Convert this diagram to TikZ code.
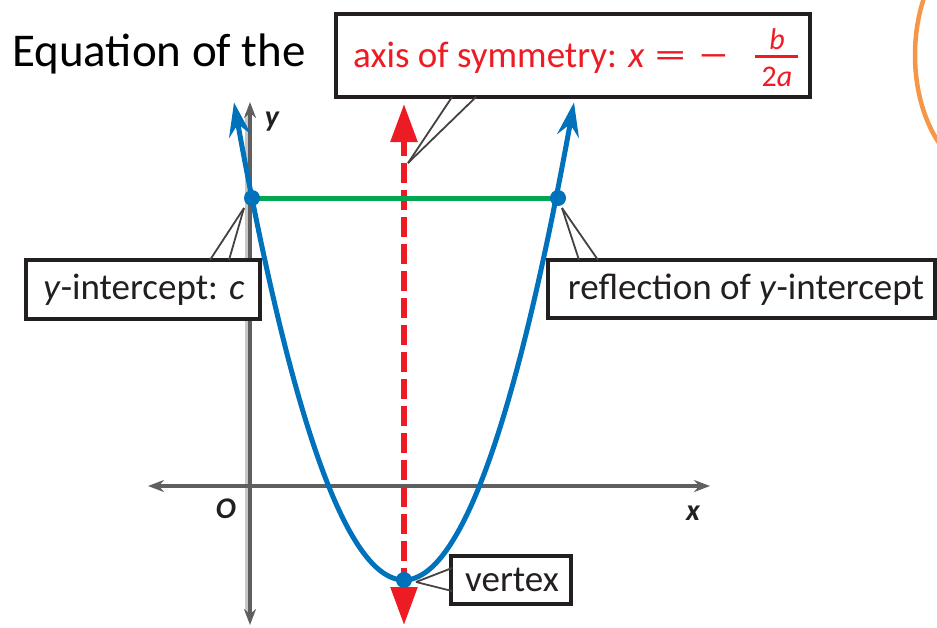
\documentclass[tikz,border=0pt]{standalone}
\usepackage{fontspec}
\usepackage{graphicx}
\setmainfont{Carlito}
\usetikzlibrary{arrows.meta}
\definecolor{pblue}{RGB}{0,114,188}
\definecolor{pred}{RGB}{237,28,36}
\definecolor{pgreen}{RGB}{0,166,81}
\definecolor{porange}{RGB}{247,150,70}
\definecolor{axgray}{RGB}{95,95,95}
\definecolor{txt}{RGB}{35,31,32}
\begin{document}
\begin{tikzpicture}[x=1pt,y=-1pt,
  box/.style={draw=txt, line width=3.5pt, fill=white, inner sep=0pt},
  pointer/.style={draw=txt!85, line width=1.8pt},
  lbl/.style={font=\fontsize{37}{37}\selectfont, text=txt, inner sep=0pt},
  axlbl/.style={font=\fontsize{30}{30}\selectfont\bfseries\itshape, text=txt, inner sep=0pt},
  axisline/.style={axgray, line width=3.5pt, {Stealth[length=16pt,width=12pt]}-{Stealth[length=16pt,width=12pt]}},
  curve/.style={pblue, line width=5pt, {Stealth[length=34pt,width=22pt,inset=12pt]}-{Stealth[length=34pt,width=22pt,inset=12pt]}},
  symaxis/.style={pred, line width=5.5pt, dash pattern=on 20pt off 7pt, {Triangle[length=38pt,width=26pt]}-{Triangle[length=38pt,width=26pt]}},
  dot/.style={circle, fill=pblue, minimum size=16pt, inner sep=0pt}
]
\useasboundingbox (0,0) rectangle (937,627);
% orange arc
\begin{scope}
  \clip (0,0) rectangle (937,627);
  \draw[porange, line width=4.5pt] (990,55) ellipse [x radius=75, y radius=120];
\end{scope}
% title text
\node[font=\fontsize{47}{47}\selectfont, anchor=base west, inner sep=0pt] (title) at (12,66) {Equation of the};
% axes
\coordinate (xl) at (148,486);
\coordinate (xr) at (710,486);
\coordinate (yb) at (250,625);
\coordinate (yt) at (250,102);
\draw[axgray!35, line width=6pt] (yb) ++(-2,-12) -- ++(0,-500);
\draw[axisline] (xl) -- (xr);
\draw[axisline] (yb) -- (yt);
\node[axlbl] (ylab) at (272,122) {y};
\node[axlbl] (xlab) at (693,513) {x};
\node[axlbl] (olab) at (226,509) {O};
% axis of symmetry
\coordinate (st) at (404,104);
\coordinate (sb) at (404,625);
\draw[symaxis] (sb) -- (st);
% green segment
\coordinate (pl) at (252,198);
\coordinate (pr) at (558,198);
\draw[pgreen, line width=5pt] (pl) -- (pr);
% parabola
\draw[curve] plot[domain=234:574, samples=80, smooth] ({\x},{580-0.01653*(\x-404)*(\x-404)});
% points
\node[dot] (yint) at (pl) {};
\node[dot] (refl) at (pr) {};
\node[dot] (vert) at (404,580) {};
% axis-of-symmetry callout
\node[box, minimum width=474pt, minimum height=83pt] (axbox) at (573,55.5) {};
\node[lbl, text=pred, anchor=base west] (axtext) at (353,67) {axis of symmetry: \textit{x}\hspace{10pt}\scalebox{1.7}[1]{=}\hspace{12pt}\scalebox{1.7}[1]{−}};
\node[inner sep=0pt, text=pred, font=\fontsize{30}{30}\selectfont\itshape, anchor=base] (fnum) at (777,49) {b};
\draw[pred, line width=3pt] (755,56) -- (798,56);
\node[inner sep=0pt, text=pred, font=\fontsize{30}{30}\selectfont, anchor=base] (fden) at (777,86) {2\textit{a}};
\coordinate (axp) at (408,163);
\draw[pointer] (axp) -- (452,97);
\draw[pointer] (axp) -- (476,97);
% y-intercept callout
\node[box, minimum width=234pt, minimum height=59pt] (ybox) at (143,289.5) {};
\node[lbl] (ytext) at (144,290) {\textit{y}-intercept: \textit{c}};
\draw[pointer] (yint) ++(-8,10) -- (210,260);
\draw[pointer] (yint) ++(-8,10) -- (229,260);
% reflection callout
\node[box, minimum width=387pt, minimum height=58pt] (rbox) at (741.5,289) {};
\node[lbl] (rtext) at (746,290) {reflection of \textit{y}-intercept};
\draw[pointer] (refl) ++(4,10) -- (579,260);
\draw[pointer] (refl) ++(4,10) -- (598,260);
% vertex callout
\node[box, minimum width=120pt, minimum height=48pt] (vbox) at (511,580) {};
\node[lbl] (vtext) at (512,580) {vertex};
\draw[pointer] (vert) ++(12,2) -- (452,568);
\draw[pointer] (vert) ++(12,2) -- (452,591);
\end{tikzpicture}
\end{document}
